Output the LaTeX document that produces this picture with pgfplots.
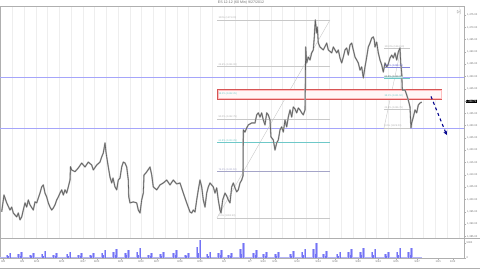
\documentclass[border=0pt]{standalone}
\usepackage{pgfplots}
\usepackage{pgfplotstable}
\pgfplotsset{compat=1.18}
\usepackage{fontspec}
\setmainfont{Liberation Sans}
\usetikzlibrary{arrows.meta}
\definecolor{pricegray}{RGB}{95,95,95}
\definecolor{pricelight}{RGB}{175,175,175}
\definecolor{framegray}{RGB}{175,175,175}
\definecolor{gridc}{RGB}{238,238,238}
\definecolor{hblue}{RGB}{165,165,250}
\definecolor{boxred}{RGB}{215,85,85}
\definecolor{fibteal}{RGB}{110,200,200}
\definecolor{fibgray}{RGB}{200,200,200}
\definecolor{fibtext}{RGB}{175,175,175}
\definecolor{fibpurple}{RGB}{165,165,200}
\definecolor{fibblue}{RGB}{80,80,205}
\definecolor{volblue}{RGB}{115,115,245}
\definecolor{vollight}{RGB}{180,180,250}
\definecolor{arrowblue}{RGB}{0,0,140}
\definecolor{labgray}{RGB}{110,110,110}
\pgfplotstableread{
x y
1.7 1395.0
4 1401.8
6.7 1398.6
10 1395.7
11.7 1396.9
13.3 1394.5
16.7 1392.9
18.3 1394.5
20 1391.7
21.7 1392.9
23.3 1395.7
25 1398.6
26.7 1396.9
28.3 1399.8
30 1397.8
33.3 1395.7
35 1399.0
36.7 1398.6
40 1402.6
41.7 1405.1
43.3 1405.9
45 1402.6
46.7 1401.0
48.3 1398.6
50 1396.9
51.7 1395.7
53.3 1396.5
55 1397.8
56.7 1399.8
58.3 1401.0
60 1402.6
61.7 1403.9
63.3 1401.8
65 1403.9
66.7 1402.6
68.3 1405.1
70 1407.9
70.5 1413.3
71.7 1412.0
75 1411.3
78.3 1412.8
81.7 1414.8
85 1413.2
88.3 1415.2
91.7 1414.0
93.3 1412.0
96.7 1414.0
100 1415.2
101.7 1417.3
103.3 1418.9
105 1423.0
106 1419.3
106.7 1417.3
108.3 1413.2
110 1409.1
111.7 1406.7
113 1408.7
115 1405.1
116.7 1403.9
118.3 1407.9
120 1408.7
121.7 1413.2
123.3 1415.2
125 1414.8
126.7 1413.2
128.3 1407.9
128.8 1401.0
130 1398.6
133.3 1399.0
136.7 1398.6
138.3 1395.7
140 1394.5
141.7 1399.8
143.3 1402.6
144 1409.9
146.7 1411.2
150 1413.2
151.7 1410.0
153.3 1405.1
156.7 1403.9
160 1405.9
163.3 1406.7
166.7 1407.9
170 1405.9
173.3 1407.9
176.7 1406.3
180 1406.7
183.3 1402.6
186.7 1398.6
190 1394.9
191.7 1394.5
193.3 1395.7
195 1394.9
196.7 1399.8
198.3 1403.9
200 1407.9
201.7 1405.1
203.3 1399.8
205 1396.9
206.7 1402.6
208.3 1405.1
210 1406.7
213.3 1405.1
215 1402.6
216.7 1404.7
218.3 1399.8
220 1395.7
221 1394.5
222.7 1399.8
225 1402.6
226.7 1401.4
228.3 1399.8
230 1398.6
231.7 1405.1
233.3 1406.7
235 1404.7
236.7 1403.1
238.3 1403.9
240 1406.7
241.7 1407.9
243 1409.6
243.3 1428.3
245 1427.4
246.7 1429.1
248.3 1430.3
251.7 1431.1
255 1431.1
256.7 1434.4
258.3 1435.2
260 1433.5
261.7 1435.2
263.3 1432.3
265 1430.3
266.7 1435.2
268.3 1434.4
270 1432.3
271 1425.4
273.3 1424.2
275 1420.1
276.7 1423.0
278.3 1424.2
280 1428.3
281.7 1429.5
283.3 1427.4
285 1432.3
286.7 1429.5
288.3 1433.5
290 1436.4
291.7 1433.5
293.3 1437.6
295 1436.8
296.7 1435.2
298.3 1437.2
300 1436.4
301.7 1435.2
303.3 1434.4
305 1436.4
305.7 1462.0
306.7 1455.5
308.3 1457.9
310 1456.7
311.7 1459.6
313.3 1460.8
314.3 1466.1
315.3 1473.0
316.7 1467.7
317.3 1470.1
318.3 1463.6
320 1462.0
323.3 1460.8
326.7 1463.6
328.3 1460.8
331.7 1459.6
333.3 1462.0
336.7 1459.6
338.3 1460.8
340 1457.5
341.7 1455.5
343.3 1457.9
345 1460.8
346.7 1461.6
348.3 1458.7
350 1462.8
351.7 1463.6
353.3 1460.8
355 1457.9
356.7 1456.7
358.3 1455.5
360 1452.6
361.7 1453.9
363.3 1449.4
365 1453.9
366.7 1457.9
368.3 1462.0
370 1463.6
371.7 1465.6
373.3 1466.1
374.3 1464.8
375 1462.0
376.7 1464.0
378.3 1459.6
380 1456.7
381.7 1454.7
383.3 1451.8
385 1455.5
386.7 1453.9
388.3 1455.1
390 1457.5
391.7 1458.7
393.3 1457.5
395 1459.6
396.7 1456.7
398.3 1460.0
400 1461.6
400.7 1455.5
401.7 1451.4
402.3 1444.5
405 1444.5
406.7 1442.5
408.3 1440.4
410 1437.6
410.7 1431.5
411 1429.1
411.7 1431.1
413.3 1433.5
415 1436.4
416.7 1435.2
418.3 1438.4
420 1439.2
421.7 1439.6
}\price
\pgfplotstableread{
x v
7 1030
8.5 510
10 1710
18.7 1230
20.2 620
21.7 2050
30.3 1030
31.8 510
33.3 1710
42 1440
43.5 720
45 2400
53.7 1030
55.2 510
56.7 1710
67 1230
68.5 620
70 2050
78.7 1030
80.2 510
81.7 1710
90.3 1030
91.8 510
93.3 1710
102 1640
103.5 820
105 2740
113.7 1850
115.2 920
116.7 3080
125.3 1640
126.8 820
128.3 2740
137 2050
138.5 1030
140 3420
148.7 1030
150.2 510
151.7 1710
160.3 1230
161.8 620
163.3 2050
173.7 1640
175.2 820
176.7 2740
185.3 1030
186.8 510
188.3 1710
197 3490
198.5 1740
200 5810
207 1230
208.5 620
210 2050
218.7 1640
220.2 820
221.7 2740
228.7 1030
230.2 510
231.7 1710
240.3 2870
241.8 1440
243.3 4790
253.7 1640
255.2 820
256.7 2740
263.7 1230
265.2 620
266.7 2050
275.3 1230
276.8 620
278.3 2050
290.3 1440
291.8 720
293.3 2400
302 1850
303.5 920
305 3080
313.7 2870
315.2 1440
316.7 4790
323.7 1440
325.2 720
326.7 2400
337 1230
338.5 620
340 2050
348.7 1850
350.2 920
351.7 3080
360.3 2050
361.8 1030
363.3 3420
372 1850
373.5 920
375 3080
385.3 1230
386.8 620
388.3 2050
397 2050
398.5 1030
400 3420
408.7 2050
410.2 1030
411.7 3420
}\volume
\begin{document}
\begin{tikzpicture}
\begin{axis}[
  name=main, at={(0,0)}, anchor=south west,
  scale only axis, width=464bp, height=232.3bp,
  xmin=0, xmax=464, ymin=1384.2, ymax=1478.66,
  clip=false,
  axis line style={framegray, line width=0.6pt},
  xtick={12.3,24.05,...,460}, xticklabels={}, major x tick style={draw=none},
  xmajorgrids, grid style={gridc, line width=0.5pt},
  ytick={1385,1390,...,1475}, ytick pos=right, yticklabel pos=right,
  tick align=outside, major tick length=2.2bp,
  major y tick style={framegray, line width=0.4pt},
  yticklabel style={font=\fontsize{2.6}{3}\selectfont, text=labgray, inner sep=0.8bp},
  /pgf/number format/.cd, fixed, fixed zerofill, precision=2, 1000 sep={,}, assume math mode=true,
]
% horizontal levels
\addplot[hblue, line width=1pt] coordinates {(0,1449.6) (464,1449.6)};
\addplot[hblue, line width=1pt] coordinates {(0,1428.9) (464,1428.9)};
% left fibonacci
\addplot[fibgray, line width=0.4pt] coordinates {(217,1392.5) (330,1473)};
\addplot[fibgray, line width=0.4pt] coordinates {(217,1473) (330,1473)};
\addplot[fibgray, line width=0.4pt] coordinates {(217,1454) (330,1454)};
\addplot[fibteal, line width=0.4pt] coordinates {(217,1442.25) (330,1442.25)};
\addplot[fibgray, line width=0.4pt] coordinates {(217,1432.75) (330,1432.75)};
\addplot[fibteal, line width=0.5pt] coordinates {(217,1423.25) (330,1423.25)};
\addplot[fibpurple, line width=0.5pt] coordinates {(217,1411.5) (330,1411.5)};
\addplot[fibgray, line width=0.4pt] coordinates {(217,1392.5) (330,1392.5)};
% right fibonacci
\addplot[fibgray, line width=0.4pt] coordinates {(384,1429.1) (401,1461.5)};
\addplot[fibgray, line width=0.4pt] coordinates {(384,1461.5) (410,1461.5)};
\addplot[fibblue!70, line width=0.4pt] coordinates {(384,1453.8) (410,1453.8)};
\addplot[fibteal, line width=0.4pt] coordinates {(384,1449.1) (410,1449.1)};
\addplot[fibgray, line width=0.4pt] coordinates {(384,1436.7) (410,1436.7)};
\addplot[fibgray, line width=0.4pt] coordinates {(384,1429.1) (410,1429.1)};
% red zone
\addplot[boxred, line width=0.8pt, fill=red!3] coordinates {(217,1440.8) (441.7,1440.8) (441.7,1444.8) (217,1444.8) (217,1440.8)};
\addplot[red!25, line width=0.3pt] coordinates {(218,1441.3) (440.7,1441.3) (440.7,1444.3) (218,1444.3) (218,1441.3)};
% price: light band then darker core
\addplot[pricelight, line width=1.5pt, line join=round] table[x=x, y=y] {\price};
\addplot[pricegray, line width=0.6pt, line join=round] table[x=x, y=y] {\price};
% forecast arrow
\addplot[arrowblue, line width=1.1pt, dashed, -{Stealth[length=4bp,width=4bp]}] coordinates {(431,1441.9) (446.7,1426.2)};
% fib labels
\begin{scope}[every node/.style={anchor=south west, inner sep=0.3bp, font=\fontsize{2.5}{3}\selectfont}]
\node[text=fibtext] at (axis cs:218,1473) {100\% (1473.00)};
\node[text=fibtext] at (axis cs:218,1454) {23.6\% (1454.00)};
\node[text=fibteal] at (axis cs:218,1442.25) {38.2\% (1442.25)};
\node[text=fibtext] at (axis cs:218,1432.75) {50.0\% (1432.75)};
\node[text=fibteal] at (axis cs:218,1423.25) {61.8\% (1423.25)};
\node[text=fibpurple] at (axis cs:218,1411.5) {76.4\% (1411.50)};
\node[text=fibtext] at (axis cs:218,1392.5) {0.0\% (1392.50)};
\node[text=fibtext] at (axis cs:384,1461.5) {100.0\% (1461.50)};
\node[text=fibblue] at (axis cs:384,1453.8) {76.4\% (1453.75)};
\node[text=black!60, fill=fibteal!40] at (axis cs:384,1449.1) {61.8\% (1449.00)};
\node[text=fibteal] at (axis cs:384,1441.4) {38.2\% (1441.50)};
\node[text=fibtext] at (axis cs:384,1436.7) {23.6\% (1436.75)};
\node[text=fibtext] at (axis cs:384,1429.1) {0.0\% (1429.00)};
\end{scope}
% last price marker
\node[fill=black, text=white, anchor=west, inner sep=0.5bp, font=\fontsize{2.6}{3}\selectfont] at (axis cs:465.5,1439.75) {1,439.75};
\node[text=gray, font=\fontsize{5}{5}\selectfont, inner sep=0pt] at (axis cs:459,1476.2) {$\triangleright\!|$};
\end{axis}
\begin{axis}[
  name=vol, at={(main.south west)}, anchor=north west,
  scale only axis, width=464bp, height=19.7bp,
  xmin=0, xmax=464, ymin=0, ymax=6450,
  clip=false,
  axis line style={framegray, line width=0.6pt},
  xtick={3.3,22.3,36.7,61.7,83.3,96.7,120.7,141,156.7,180,200,224,250,263.3,275,297,318.3,335,358.3,378.3,396,417.3,438.3,452.7},
  xticklabels={8/8,8/9,8/13,8/15,8/17,8/20,8/22,8/23,8/27,8/29,8/30,9/4,9/7,9/10,9/11,9/13,9/14,9/18,9/20,9/24,9/25,9/27,10/1,10/2},
  xtick pos=bottom, tick align=outside, major tick length=1.6bp,
  major tick style={framegray, line width=0.4pt},
  xticklabel style={font=\fontsize{2.7}{3}\selectfont, text=labgray, inner sep=0.6bp},
  ytick={0,5000}, yticklabels={0,5000}, ytick pos=right, yticklabel pos=right,
  yticklabel style={font=\fontsize{2.6}{3}\selectfont, text=labgray, inner sep=0.8bp},
]
\addplot[fill=vollight, draw=none] coordinates {(0,0)(0,330)(421.7,330)(421.7,0)} -- cycle;
\addplot[ycomb, vollight, line width=2.6pt] table[x=x, y=v] {\volume};
\addplot[ycomb, volblue, line width=0.9pt] table[x=x, y=v] {\volume};
\end{axis}
\node[font=\fontsize{3.6}{4}\selectfont, text=labgray] at ([xshift=241bp,yshift=3.2bp]main.north west) {ES 12-12 (60 Min) 9/27/2012};
\draw[framegray, line width=0.6pt] (main.south west) -- ++(480bp,0);
\draw[framegray, line width=0.6pt] ([yshift=-29.7bp]main.south west) -- ++(480bp,0);
\pgfresetboundingbox
\path[use as bounding box] ([yshift=-31.7bp]main.south west) rectangle ([xshift=480bp,yshift=6bp]main.north west);
\end{tikzpicture}
\end{document}
